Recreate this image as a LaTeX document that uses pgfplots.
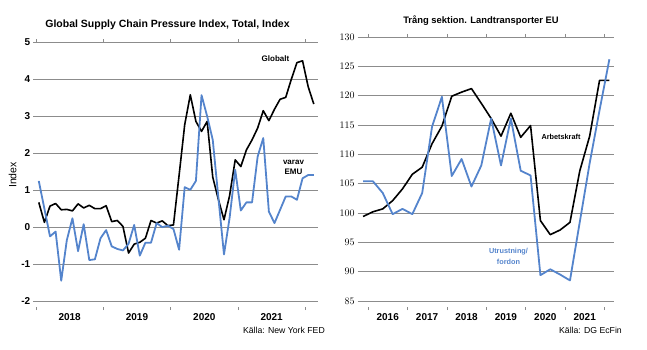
\documentclass[border=0pt]{standalone}
\usepackage{fontspec}
\setmainfont{Liberation Sans}
\usepackage{pgfplots}
\usepackage{pgfplotstable}
\pgfplotsset{compat=1.18}
\definecolor{lblue}{RGB}{84,132,204}
\definecolor{grd}{RGB}{140,140,140}

\pgfplotstableread{
i g e
0 0.67 1.25
1 0.13 0.50
2 0.57 -0.25
3 0.64 -0.12
4 0.47 -1.45
5 0.48 -0.35
6 0.44 0.24
7 0.63 -0.65
8 0.52 0.08
9 0.59 -0.89
10 0.50 -0.87
11 0.50 -0.30
12 0.58 -0.08
13 0.15 -0.52
14 0.18 -0.59
15 0.02 -0.63
16 -0.70 -0.45
17 -0.46 0.06
18 -0.41 -0.77
19 -0.30 -0.42
20 0.18 -0.42
21 0.11 0.11
22 0.17 0.00
23 0.04 0.04
24 0.06 -0.05
25 1.40 -0.61
26 2.77 1.08
27 3.58 1.01
28 2.86 1.25
29 2.59 3.57
30 2.86 3.00
31 1.35 2.36
32 0.75 0.80
33 0.20 -0.74
34 0.85 0.25
35 1.82 1.55
36 1.64 0.45
37 2.09 0.67
38 2.36 0.67
39 2.68 1.91
40 3.15 2.41
41 2.88 0.42
42 3.19 0.11
43 3.46 0.47
44 3.51 0.83
45 4.00 0.83
46 4.45 0.74
47 4.50 1.32
48 3.80 1.41
49 3.33 1.41
}\gscpi

\pgfplotstableread{
k a u
0 99.4 105.4
1 100.2 105.4
2 100.7 103.4
3 102.1 99.8
4 104.1 100.7
5 106.6 99.8
6 107.8 103.4
7 111.8 114.7
8 114.8 119.8
9 119.9 106.3
10 120.6 109.2
11 121.2 104.5
12 118.7 108.1
13 116.1 116.1
14 113.1 108.1
15 117.0 116.1
16 112.9 107.2
17 114.9 106.4
18 98.7 89.4
19 96.3 90.4
20 97.1 89.5
21 98.4 88.5
22 107.2 98.5
23 113.1 108.5
24 122.6 117.5
25 122.6 126.2
}\land

\pgfplotsset{mystyle/.style={
  scale only axis,
  axis line style={draw=none},
  tick align=outside,
  major tick length=3bp,
  xtick style={draw=grd, line width=0.6bp},
  ytick style={draw=none},
  ymajorgrids,
  grid style={grd, line width=0.8bp},
  xticklabels={},
  yticklabel style={inner sep=0pt, font=\fontsize{10bp}{12bp}\selectfont\bfseries},
  clip=false,
}}

\begin{document}
\begin{tikzpicture}
\path[use as bounding box] (0,0) rectangle (647bp,350bp);

% ---- Left chart ----
\begin{axis}[mystyle,
  at={(33.5bp,43bp)}, anchor=south west,
  width=284.2bp, height=264.7bp,
  xmin=-0.94, xmax=49.7, ymin=-2.16, ymax=5,
  xtick={-0.5,11.5,23.5,35.5,47.5},
  ytick={-2,-1,0,1,2,3,4,5},
  yticklabels={{-2},{-1},0,1,2,3,4,5},
]
\addplot[black, line width=1.6bp, line join=round] table[x=i,y=g]{\gscpi};
\addplot[lblue, line width=1.8bp, line join=round] table[x=i,y=e]{\gscpi};
\foreach \xx/\yy in {5.5/2018,17.5/2019,29.5/2020,41.5/2021}{
  \edef\tmp{\noexpand\node[font=\noexpand\fontsize{10bp}{12bp}\noexpand\selectfont\noexpand\bfseries, inner sep=0pt] at (axis cs:\xx,-2.16) [yshift=-9.7bp] {\yy};}
  \tmp
}
\end{axis}

% ---- Right chart ----
\begin{axis}[mystyle,
  at={(357.7bp,43bp)}, anchor=south west,
  width=256.6bp, height=270bp,
  xmin=-0.546, xmax=25.5, ymin=83.97, ymax=130,
  xtick={0.5,4.5,8.5,12.5,16.5,20.5,24.5},
  ytick={85,90,...,130},
]
\addplot[black, line width=1.6bp, line join=round] table[x=k,y=a]{\land};
\addplot[lblue, line width=1.8bp, line join=round] table[x=k,y=u]{\land};
\foreach \xx/\yy in {2.5/2016,6.5/2017,10.5/2018,14.5/2019,18.5/2020,22.5/2021}{
  \edef\tmp{\noexpand\node[font=\noexpand\fontsize{10bp}{12bp}\noexpand\selectfont\noexpand\bfseries, inner sep=0pt] at (axis cs:\xx,83.97) [yshift=-9.7bp] {\yy};}
  \tmp
}
\end{axis}

% ---- Texts ----
\node[font=\fontsize{10.5bp}{12bp}\selectfont\bfseries, inner sep=0pt] at (167.5bp,325bp) {Global Supply Chain Pressure Index, Total, Index};
\node[font=\fontsize{9.4bp}{11bp}\selectfont\bfseries, inner sep=0pt] at (481bp,329.3bp) {Trång sektion. Landtransporter EU};
\node[font=\fontsize{10.5bp}{12bp}\selectfont, inner sep=0pt, rotate=90] at (12.5bp,175bp) {Index};
\node[font=\fontsize{8bp}{10bp}\selectfont\bfseries, inner sep=0pt] at (275.5bp,291.7bp) {Globalt};
\node[font=\fontsize{8bp}{10bp}\selectfont\bfseries, inner sep=0pt] at (293.5bp,187.7bp) {varav};
\node[font=\fontsize{8bp}{10bp}\selectfont\bfseries, inner sep=0pt] at (293.5bp,178.3bp) {EMU};
\node[font=\fontsize{8.7bp}{10bp}\selectfont, inner sep=0pt, anchor=east] at (325bp,19.3bp) {Källa: New York FED};
\node[font=\fontsize{7.3bp}{9bp}\selectfont\bfseries, inner sep=0pt] at (561bp,213.3bp) {Arbetskraft};
\node[font=\fontsize{7.3bp}{9bp}\selectfont\bfseries, inner sep=0pt, text=lblue] at (508.5bp,98bp) {Utrustning/};
\node[font=\fontsize{7.3bp}{9bp}\selectfont\bfseries, inner sep=0pt, text=lblue] at (508.5bp,88.3bp) {fordon};
\node[font=\fontsize{8.7bp}{10bp}\selectfont, inner sep=0pt, anchor=east] at (622bp,19.3bp) {Källa: DG EcFin};
\end{tikzpicture}
\end{document}
